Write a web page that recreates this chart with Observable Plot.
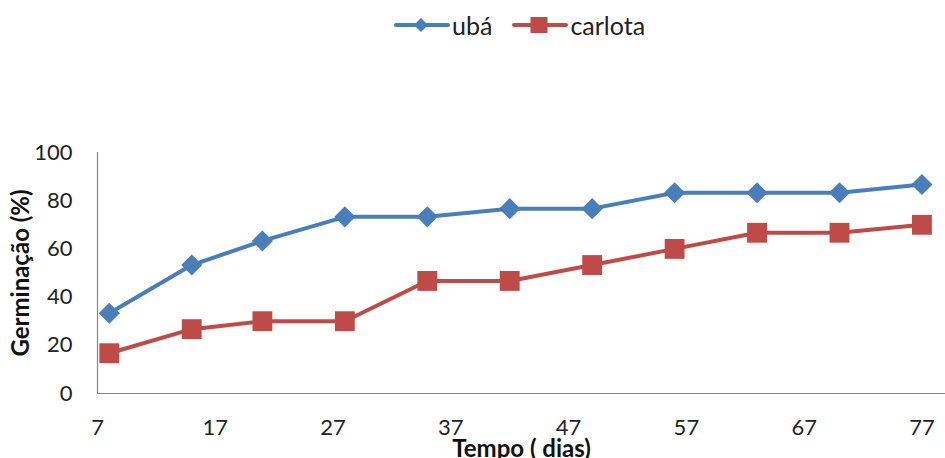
<!DOCTYPE html>
<html>
<head>
<meta charset="utf-8">
<script src="https://cdn.jsdelivr.net/npm/d3@7"></script>
<script src="https://cdn.jsdelivr.net/npm/@observablehq/plot@0.6"></script>
<style>
  html, body { margin: 0; padding: 0; background: #fff; }
  #wrap { position: relative; width: 945px; height: 458px; overflow: hidden; font-family: Lato, "Open Sans", sans-serif; color: #222; }
  #legend { position: absolute; top: 8px; left: 394px; height: 34px; display: flex; align-items: center; font-size: 25px; }
  #legend .item { display: flex; align-items: center; }
  #legend svg { display: block; }
  #chart { position: absolute; top: 50px; left: 0; }
</style>
</head>
<body>
<div id="wrap">
  <div id="legend"></div>
  <div id="chart"></div>
</div>
<script>
// ---- data ----
const days = [8, 15, 21, 28, 35, 42, 49, 56, 63, 70, 77];
const uba = [33.3, 53.3, 63.3, 73.3, 73.3, 76.7, 76.7, 83.3, 83.3, 83.3, 86.7];
const carlota = [16.7, 26.7, 30, 30, 46.7, 46.7, 53.3, 60, 66.7, 66.7, 70];
const seriesNames = ["ubá", "carlota"];
const seriesColors = ["#4A7EBB", "#BE4B48"];
const seriesSymbols = ["diamond2", "square"];
const xTicks = [7, 17, 27, 37, 47, 57, 67, 77];
const yTicks = [0, 20, 40, 60, 80, 100];
const xLabel = "Tempo ( dias)";
const yLabel = "Germinação (%)";

const data = days.flatMap((d, i) => [
  {day: d, value: uba[i], series: seriesNames[0]},
  {day: d, value: carlota[i], series: seriesNames[1]}
]);

// ---- legend ----
const legend = document.getElementById("legend");
seriesNames.forEach((name, i) => {
  const item = document.createElement("div");
  item.className = "item";
  item.style.marginRight = i === 0 ? "20px" : "0";
  const sym = i === 0
    ? `<path d="M27,10 L34,17 L27,24 L20,17 Z" fill="${seriesColors[i]}"/>`
    : `<rect x="18.5" y="9" width="17" height="16" fill="${seriesColors[i]}"/>`;
  item.innerHTML = `<svg width="56" height="34"><line x1="2" x2="54" y1="17" y2="17" stroke="${seriesColors[i]}" stroke-width="4" stroke-linecap="round"/>${sym}</svg><span style="margin-left:2px">${name}</span>`;
  legend.appendChild(item);
});

// ---- chart ----
const axisColor = "#868686";
const chart = Plot.plot({
  width: 945,
  height: 408,
  marginTop: 102,
  marginBottom: 65,
  marginLeft: 97,
  marginRight: 0,
  style: {fontFamily: "Lato, 'Open Sans', sans-serif", fontSize: "22px", color: "#222", background: "#fff"},
  x: {domain: [7, 79]},
  y: {domain: [0, 100]},
  color: {domain: seriesNames, range: seriesColors},
  marks: [
    Plot.ruleX([7], {stroke: axisColor, strokeWidth: 1.2}),
    Plot.ruleY([0], {stroke: axisColor, strokeWidth: 1.2}),
    Plot.axisX({ticks: xTicks, tickSize: 0, tickPadding: 26, label: xLabel, labelAnchor: "center", labelOffset: 63, labelArrow: "none"}),
    Plot.axisY({ticks: yTicks, tickSize: 0, tickPadding: 25, label: yLabel, labelAnchor: "center", labelOffset: 86, labelArrow: "none"}),
    ...seriesNames.flatMap((name, i) => [
      Plot.line(data, {filter: d => d.series === name, x: "day", y: "value", stroke: "series", strokeWidth: 4}),
      Plot.dot(data, {filter: d => d.series === name, x: "day", y: "value", fill: "series", symbol: () => seriesSymbols[i], r: i === 0 ? 9.5 : 11.2, stroke: "none"})
    ])
  ]
});
d3.select(chart).selectAll('g[aria-label="x-axis label"] text, g[aria-label="y-axis label"] text')
  .attr("font-weight", "bold").attr("fill", "#111").attr("font-size", "24px");
document.getElementById("chart").appendChild(chart);
</script>
</body>
</html>
